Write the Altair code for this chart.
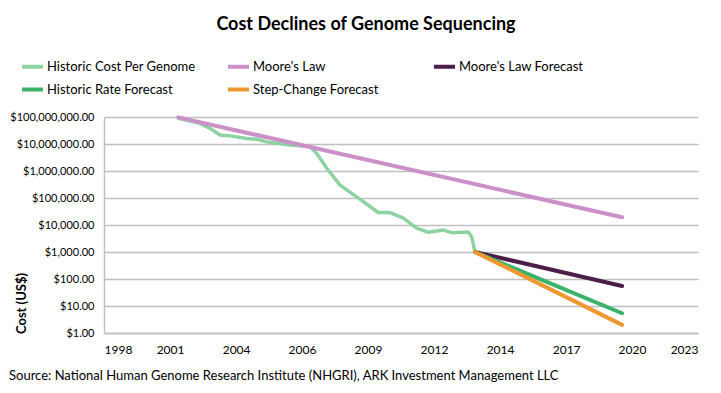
import json
import altair as alt
import pandas as pd

# ---------------- data ----------------
series_names = [
    "Historic Cost Per Genome",
    "Moore's Law",
    "Moore's Law Forecast",
    "Historic Rate Forecast",
    "Step-Change Forecast",
]
series_colors = ["#8DD3A2", "#CC90C9", "#4B1D47", "#3DB26A", "#F0972F"]

hist_years = [2001.62, 2002.52, 2002.94, 2003.35, 2003.77, 2004.46, 2004.87, 2005.29,
              2006.26, 2007.09, 2007.36, 2007.78, 2008.33, 2009.02, 2009.92, 2010.40,
              2010.96, 2011.51, 2011.99, 2012.62, 2012.96, 2013.65, 2013.79, 2013.93]
hist_costs = [8.9e7, 5.8e7, 3.8e7, 2.15e7, 2.0e7, 1.6e7, 1.5e7, 1.2e7,
              9.1e6, 7.9e6, 4.5e6, 1.26e6, 3.0e5, 1.1e5, 2.9e4, 2.9e4,
              1.8e4, 7.6e3, 5.4e3, 6.5e3, 5.2e3, 5.5e3, 3.7e3, 1000]

moore_years = [2001.62, 2020.03]
moore_costs = [9.7e7, 1.93e4]

moore_fc_years = [2013.93, 2020.03]
moore_fc_costs = [1000, 55]

rate_fc_years = [2013.93, 2020.03]
rate_fc_costs = [1000, 5.4]

step_fc_years = [2013.93, 2020.03]
step_fc_costs = [1000, 2.0]

x_tick_values = [1998.54, 2001.28, 2004.02, 2006.75, 2009.49, 2012.23,
                 2014.97, 2017.71, 2020.44, 2023.18]
x_tick_labels = ["1998", "2001", "2004", "2006", "2009", "2012",
                 "2014", "2017", "2020", "2023"]
y_tick_values = [1, 10, 100, 1000, 1e4, 1e5, 1e6, 1e7, 1e8]

title_text = "Cost Declines of Genome Sequencing"
y_title = "Cost (US$)"
source_text = "Source: National Human Genome Research Institute (NHGRI), ARK Investment Management LLC"

# ---------------- table ----------------
rows = []
for name, ys, cs in [
    (series_names[0], hist_years, hist_costs),
    (series_names[1], moore_years, moore_costs),
    (series_names[2], moore_fc_years, moore_fc_costs),
    (series_names[3], rate_fc_years, rate_fc_costs),
    (series_names[4], step_fc_years, step_fc_costs),
]:
    for i, (yr, c) in enumerate(zip(ys, cs)):
        rows.append({"series": name, "year": yr, "cost": c, "i": i})
df = pd.DataFrame(rows)

FONT = "Lato"
GRID = "#c0c0c0"

label_expr = (json.dumps(x_tick_labels)
              + f"[round((datum.value - {x_tick_values[0]}) / "
              + f"{(x_tick_values[-1] - x_tick_values[0]) / 9})]")

x_enc = alt.X(
    "year:Q",
    scale=alt.Scale(domain=[x_tick_values[0], x_tick_values[-1]], nice=False, zero=False),
    axis=alt.Axis(values=x_tick_values, labelExpr=label_expr, grid=False, ticks=False,
                  domainColor=GRID, domainWidth=1.5, labelPadding=11, labelFontSize=12,
                  labelFont=FONT, labelColor="black", labelOverlap=False, title=None),
)
y_enc = alt.Y(
    "cost:Q",
    scale=alt.Scale(type="log", domain=[1, 1e8], nice=False),
    axis=alt.Axis(values=y_tick_values, format="$,.2f", grid=True, gridColor=GRID,
                  gridWidth=1.5, ticks=False, domainColor=GRID, domainWidth=1.5,
                  labelPadding=10, labelFontSize=11, labelFont=FONT, labelColor="black",
                  labelOverlap=False,
                  title=y_title, titleFont=FONT, titleFontSize=13, titleFontWeight="bold",
                  titleColor="black", titleAngle=270, titleAlign="center",
                  titleBaseline="middle", titleX=-83, titleY=186),
)
color_enc = alt.Color(
    "series:N",
    scale=alt.Scale(domain=series_names, range=series_colors),
    sort=series_names,
    legend=alt.Legend(
        title=None, orient="none", legendX=-84, legendY=-63, columns=3,
        direction="horizontal",
        gridAlign="all", columnPadding=24, rowPadding=2,
        symbolType="stroke", symbolSize=441, symbolStrokeWidth=4,
        labelFont=FONT, labelFontSize=13, labelColor="black", labelOffset=2,
        labelLimit=300, padding=0,
    ),
)

layers = []
for k, name in enumerate(series_names):
    sw = 3.5 if k == 0 else 4
    layers.append(
        alt.Chart(df)
        .transform_filter(alt.datum.series == name)
        .mark_line(strokeWidth=sw, strokeCap="round", strokeJoin="round")
        .encode(x=x_enc, y=y_enc, color=color_enc, order="i:Q")
    )

source = (
    alt.Chart(pd.DataFrame({"t": [source_text]}))
    .mark_text(align="left", baseline="middle", fontSize=13, font=FONT, color="black")
    .encode(x=alt.value(-95), y=alt.value(259), text="t:N")
)

chart = (
    alt.layer(*layers, source)
    .properties(
        width=594,
        height=216,
        autosize=alt.AutoSizeParams(type="none"),
        padding={"left": 96, "top": 109, "right": 15, "bottom": 52},
        title=alt.TitleParams(title_text, font=FONT, fontSize=18, fontWeight="bold",
                              color="black", anchor="middle", dx=-35, offset=20),
    )
    .configure_view(stroke=None)
)

chart.save("out.html", embed_options={"renderer": "svg", "actions": False})
